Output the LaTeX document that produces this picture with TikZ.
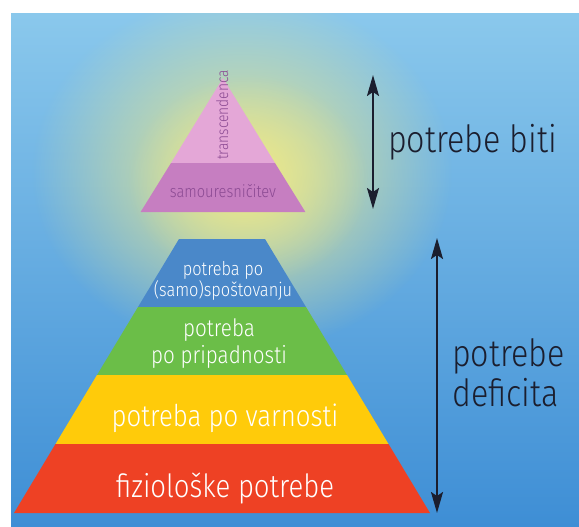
\documentclass[tikz,border=0pt]{standalone}
\usepackage{fontspec}
\setmainfont{Fira Sans}[UprightFont={* Light}, FakeStretch=0.86]
\usetikzlibrary{arrows.meta,fadings}
\definecolor{bgtop}{HTML}{8AC8EC}
\definecolor{bgbot}{HTML}{3E8ED5}
\definecolor{glowc}{HTML}{ECE88A}
\definecolor{lblue}{HTML}{4A88C9}
\definecolor{lgreen}{HTML}{6BBE48}
\definecolor{lyellow}{HTML}{FFCB0A}
\definecolor{lred}{HTML}{EE4124}
\definecolor{lpink}{HTML}{E4A7D7}
\definecolor{lpurple}{HTML}{C67EC1}
\definecolor{ptext}{HTML}{8B4A93}
\definecolor{navy}{HTML}{1B1E2E}
\tikzfading[name=glowfade, inner color=transparent!0, outer color=transparent!100]
\tikzset{
  wtext/.style={text=white, inner sep=0pt, anchor=base},
  ptxt/.style={text=ptext, inner sep=0pt, anchor=base},
  side/.style={text=navy, inner sep=0pt, anchor=base west, align=left},
  dblarrow/.style={draw=navy, line width=2pt, {Stealth[length=21pt,width=12pt,inset=4pt]}-{Stealth[length=21pt,width=12pt,inset=4pt]}},
  fs/.style={font=\fontsize{#1}{#1}\selectfont}
}
\begin{document}
\begin{tikzpicture}[x=1pt,y=-1pt]
\useasboundingbox (0,0) rectangle (579,527);
\fill[white] (0,0) rectangle (579,527);
\shade[top color=bgtop, bottom color=bgbot] (11,14) rectangle (579,527);
\begin{scope}
\clip (11,14) rectangle (579,527);
\fill[glowc, path fading=glowfade] (242,172) ellipse (210 and 180);
\fill[glowc, path fading=glowfade, fill opacity=0.8] (248,180) ellipse (120 and 105);
\end{scope}
% top pyramid
\fill[lpink] (223,78) -- (275,163) -- (171,163) -- cycle;
\fill[lpurple] (171,163) -- (275,163) -- (305.4,212) -- (140.6,212) -- cycle;
\node[ptxt, fs=16, rotate=90] (trans) at (228,115) {transcendenca};
\node[ptxt, fs=17] (samo) at (223,197) {samouresničitev};
% bottom pyramid
\fill[lblue] (179,239) -- (265,239) -- (306,307) -- (138,307) -- cycle;
\fill[lgreen] (138,307) -- (306,307) -- (347,375) -- (97,375) -- cycle;
\fill[lyellow] (97,375) -- (347,375) -- (388.5,444) -- (55.5,444) -- cycle;
\fill[lred] (55.5,444) -- (388.5,444) -- (430,513) -- (14,513) -- cycle;
\node[wtext, fs=19] (spos1) at (223,275) {potreba po};
\node[wtext, fs=19] (spos2) at (223,296) {(samo)spoštovanju};
\node[wtext, fs=24] (prip1) at (219,336) {potreba};
\node[wtext, fs=24] (prip2) at (219,363) {po pripadnosti};
\node[wtext, fs=30] (varn) at (225,426) {potreba po varnosti};
\node[wtext, fs=32] (fizio) at (225,497) {fiziološke potrebe};
% arrows and side labels
\coordinate (a1t) at (373,75);
\coordinate (a1b) at (373,209);
\draw[dblarrow] (a1t) -- (a1b);
\coordinate (a2t) at (437,238);
\coordinate (a2b) at (437,513);
\draw[dblarrow] (a2t) -- (a2b);
\node[side, fs=37.5] (biti) at (388,153) {potrebe biti};
\node[side, fs=37.5] (def1) at (452,366) {potrebe};
\node[side, fs=37.5] (def2) at (452,406) {deficita};
\end{tikzpicture}
\end{document}
